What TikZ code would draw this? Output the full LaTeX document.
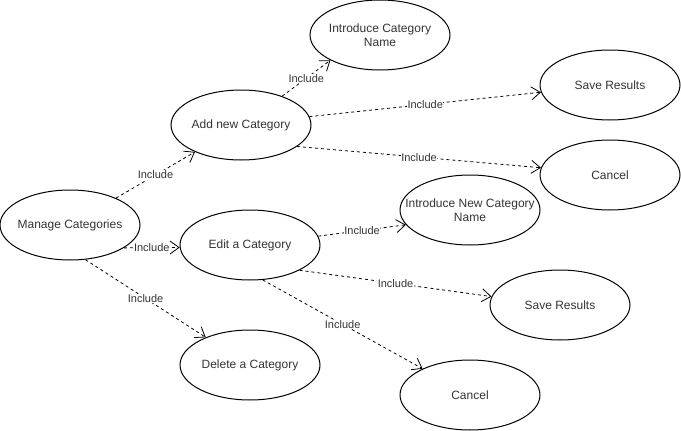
\documentclass[tikz,border=0pt]{standalone}
\usepackage{fontspec}
\setmainfont{Liberation Sans}
\usetikzlibrary{shapes.geometric,arrows.meta}

\begin{document}
\begin{tikzpicture}[x=1pt,y=-1pt]

        \useasboundingbox (0,0) rectangle (681,431);

        \begin{scope}[every node/.style={ellipse,draw,line width=1pt,minimum width=140pt,
            minimum height=70pt,inner xsep=-22pt,inner ysep=0pt,align=center,text=black!80,
            font=\fontsize{12}{14}\selectfont}]
          \node (mc)  at (70,225)  {Manage Categories};
          \node (ac)  at (241,125) {Add new Category};
          \node (icn) at (380,35)  {Introduce Category\\Name};
          \node (sra) at (610,85)  {Save Results};
          \node (cna) at (610,175) {Cancel};
          \node (ec)  at (250,245) {Edit a Category};
          \node (inn) at (470,210) {Introduce New Category\\Name};
          \node (sre) at (560,305) {Save Results};
          \node (cne) at (470,395) {Cancel};
          \node (dc)  at (250,365) {Delete a Category};
        \end{scope}

        \begin{scope}[every node/.style={fill=white,inner sep=0.5pt,text=black!80,
            font=\fontsize{11}{12}\selectfont}]

          \begin{scope}[every edge/.style={draw,line width=0.8pt,dash pattern=on 3pt off 3pt,
              -{Straight Barb[length=9pt,width=13pt]}}]
            \path (mc)     edge node {Include} (ac);
            \path (mc.-23) edge node {Include} (ec.182);
            \path (mc.-66) edge node {Include} (dc.148);
            \path (ac.35)  edge node {Include} (icn.207);
            \path (ac.7)   edge node {Include} (sra.186);
            \path (ac.-21) edge node {Include} (cna.174);
            \path (ec)     edge node {Include} (inn.193);
            \path (ec.-27) edge node {Include} (sre.173);
            \path (ec.-70) edge node {Include} (cne.151);
          \end{scope}
        \end{scope}

      \end{tikzpicture}
\end{document}
